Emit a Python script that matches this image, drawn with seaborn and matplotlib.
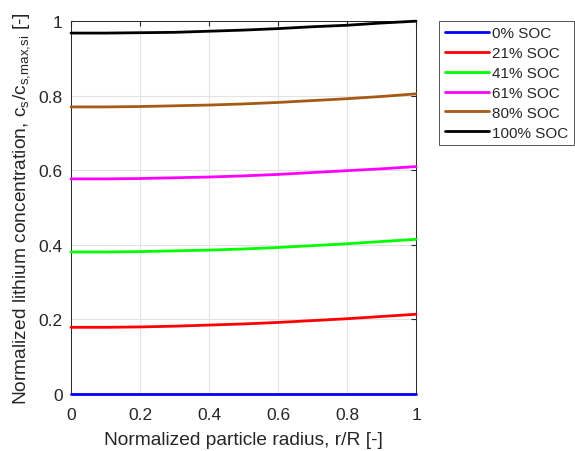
import numpy as np
import pandas as pd
import matplotlib
matplotlib.use('Agg')
import matplotlib.pyplot as plt
import seaborn as sns

# ============================================
# Data
# ============================================
RADIUS = [0.0, 0.1, 0.2, 0.3, 0.4, 0.5, 0.6, 0.7, 0.8, 0.9, 1.0]

SOC_LABELS = ['0% SOC', '21% SOC', '41% SOC', '61% SOC', '80% SOC', '100% SOC']
SOC_COLORS = ['#0000ff', '#ff0000', '#00ff00', '#ff00ff', '#a65a13', '#000000']

SOC_0 = [0.0, 0.0, 0.0, 0.0, 0.0, 0.0, 0.0, 0.0, 0.0, 0.0, 0.0]
SOC_21 = [0.179, 0.179, 0.180, 0.182, 0.185, 0.188, 0.192, 0.197, 0.202, 0.208, 0.214]
SOC_41 = [0.381, 0.381, 0.382, 0.384, 0.386, 0.389, 0.393, 0.398, 0.403, 0.409, 0.415]
SOC_61 = [0.577, 0.577, 0.578, 0.580, 0.582, 0.585, 0.589, 0.594, 0.599, 0.604, 0.610]
SOC_80 = [0.770, 0.770, 0.771, 0.773, 0.775, 0.778, 0.782, 0.787, 0.792, 0.798, 0.805]
SOC_100 = [0.968, 0.968, 0.969, 0.970, 0.973, 0.976, 0.980, 0.985, 0.989, 0.995, 1.000]

X_TICKS = [0, 0.2, 0.4, 0.6, 0.8, 1]
Y_TICKS = [0, 0.2, 0.4, 0.6, 0.8, 1]
TICK_LABELS = ['0', '0.2', '0.4', '0.6', '0.8', '1']

series = [SOC_0, SOC_21, SOC_41, SOC_61, SOC_80, SOC_100]
rows = []
for label, vals in zip(SOC_LABELS, series):
    for r, v in zip(RADIUS, vals):
        rows.append({'r': r, 'c': v, 'SOC': label})
df = pd.DataFrame(rows)

# ============================================
# Plot
# ============================================
sns.set_style('white')
plt.rcParams['font.family'] = ['Liberation Sans', 'DejaVu Sans']
plt.rcParams['mathtext.fontset'] = 'custom'
plt.rcParams['mathtext.rm'] = 'Liberation Sans'

fig = plt.figure(figsize=(5.75, 4.52), dpi=100)
ax = fig.add_axes([0.1235, 0.126, 0.6, 0.825])

sns.lineplot(data=df, x='r', y='c', hue='SOC', hue_order=SOC_LABELS,
             palette=SOC_COLORS, linewidth=2.0, ax=ax, legend=False)
for line in ax.lines:
    line.set_clip_on(False)
    line.set_zorder(5)

for label, color in zip(SOC_LABELS, SOC_COLORS):
    ax.plot([], [], color=color, linewidth=2.0, label=label)

ax.set_xlim(0, 1)
ax.set_ylim(0, 1)
ax.set_xticks(X_TICKS)
ax.set_yticks(Y_TICKS)
ax.set_xticklabels(TICK_LABELS)
ax.set_yticklabels(TICK_LABELS)
ax.grid(True, color='#e3e3e3', linewidth=0.8)
ax.set_axisbelow(True)
ax.tick_params(direction='in', length=3.5, labelsize=12.5, colors='#262626',
               top=True, right=True)
ax.tick_params(axis='x', pad=9)
ax.tick_params(axis='y', pad=6)
for s in ax.spines.values():
    s.set_color('#262626')
    s.set_linewidth(0.7)

ax.set_xlabel('Normalized particle radius, r/R [-]', fontsize=13.8,
              color='#262626', labelpad=7)
ax.set_ylabel(r'Normalized lithium concentration, c$_\mathrm{s}$/c$_\mathrm{s{,}max{,}si}$ [-]',
              fontsize=13.8, color='#262626', labelpad=4)

leg = ax.legend(loc='upper left', bbox_to_anchor=(1.068, 1.0), frameon=True,
                fancybox=False, edgecolor='#262626', fontsize=11,
                handlelength=2.9, handletextpad=0.2, labelspacing=0.38,
                borderpad=0.35, borderaxespad=0)
leg.get_frame().set_linewidth(0.7)

fig.savefig('out.png', dpi=100)
